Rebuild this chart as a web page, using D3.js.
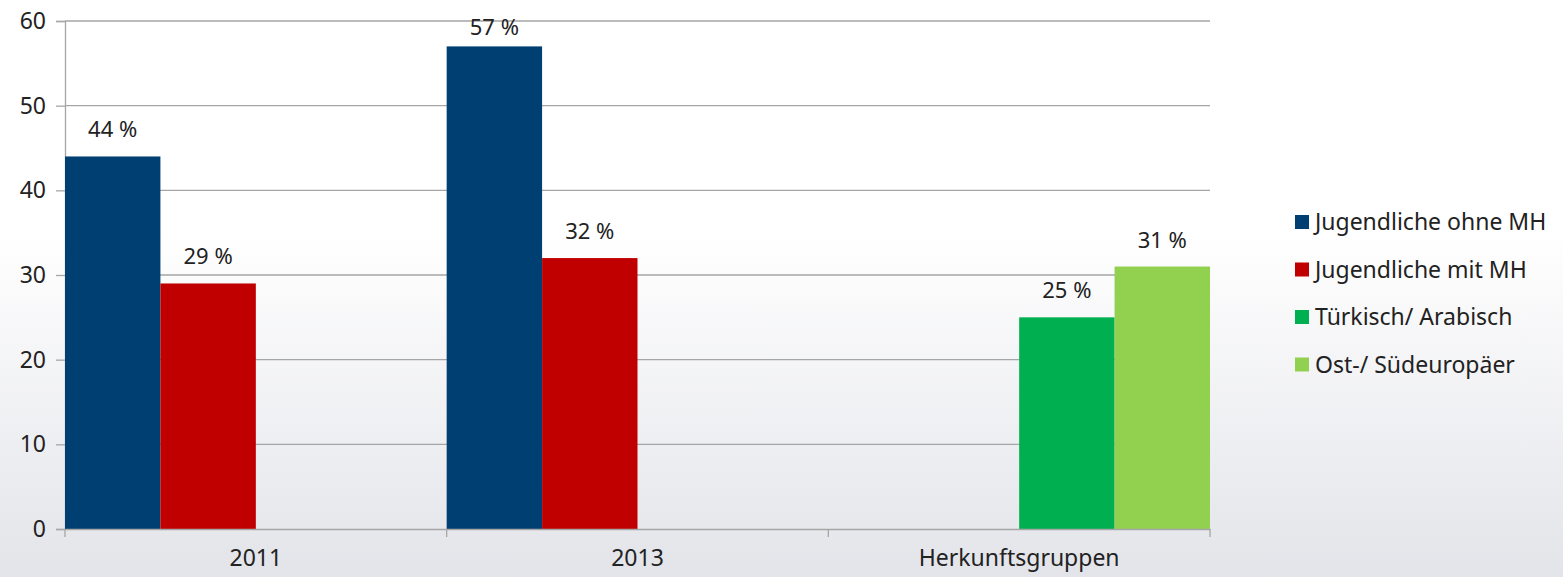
<!DOCTYPE html>
<html>
<head>
<meta charset="utf-8">
<script src="https://cdn.jsdelivr.net/npm/d3@7"></script>
<style>
  body { margin: 0; background: #fff; }
  svg { display: block; font-family: "Noto Sans", "Open Sans", sans-serif; }
</style>
</head>
<body>
<svg id="chart" width="1563" height="577"></svg>
<script>
var categories = ["2011", "2013", "Herkunftsgruppen"];
var seriesNames = ["Jugendliche ohne MH", "Jugendliche mit MH", "Türkisch/ Arabisch", "Ost-/ Südeuropäer"];
var seriesColors = ["#003f72", "#c00000", "#00b050", "#92d050"];
// values per series, one per category (null = no bar)
var ohneMH = [44, 57, null];
var mitMH = [29, 32, null];
var tuerkArab = [null, null, 25];
var ostSued = [null, null, 31];
var yTicks = [0, 10, 20, 30, 40, 50, 60];

var seriesValues = [ohneMH, mitMH, tuerkArab, ostSued];

var svg = d3.select("#chart");
var W = 1563, H = 577;
// plot area (note: "top" is taken by window.top)
var plotLeft = 65, plotRight = 1210, plotTop = 21, plotBottom = 529;

// background gradient
var defs = svg.append("defs");
var grad = defs.append("linearGradient").attr("id", "bg")
    .attr("x1", 0).attr("y1", 0).attr("x2", 0).attr("y2", 1);
grad.append("stop").attr("offset", "0%").attr("stop-color", "#ffffff");
grad.append("stop").attr("offset", "40%").attr("stop-color", "#ffffff");
grad.append("stop").attr("offset", "100%").attr("stop-color", "#e3e4e9");
svg.append("rect").attr("width", W).attr("height", H).attr("fill", "url(#bg)");

//scales
var x0 = d3.scaleBand().domain(categories).range([plotLeft, plotRight]).padding(0);
var x1 = d3.scaleBand().domain(d3.range(seriesNames.length)).range([0, x0.bandwidth()]).padding(0);
var y = d3.scaleLinear().domain([0, 60]).range([plotBottom, plotTop]);

//grid
svg.append("g").selectAll("line")
    .data(yTicks.filter(d => d > 0))
    .enter().append("line")
    .attr("x1", plotLeft).attr("x2", plotRight)
    .attr("y1", d => y(d)).attr("y2", d => y(d))
    .attr("stroke", "#a6a6a6").attr("stroke-width", 1.3);

//y axis
var yAxis = svg.append("g")
    .attr("transform", "translate(" + plotLeft + ",0)")
    .call(d3.axisLeft(y).tickValues(yTicks).tickSize(9).tickPadding(10));
yAxis.select(".domain").attr("stroke", "#a6a6a6").attr("stroke-width", 1.3);
yAxis.selectAll(".tick line").attr("stroke", "#a6a6a6").attr("stroke-width", 1.3);
yAxis.selectAll("text").attr("font-size", 23).attr("fill", "#222")
    .attr("font-family", "'Noto Sans', sans-serif");

//bars
var rows = [];
categories.forEach(function (c, ci) {
    seriesValues.forEach(function (vals, si) {
        if (vals[ci] != null) rows.push({cat: c, s: si, v: vals[ci]});
    });
});

svg.append("g").selectAll("rect")
    .data(rows)
    .enter().append("rect")
    .attr("x", d => x0(d.cat) + x1(d.s))
    .attr("y", d => y(d.v))
    .attr("width", x1.bandwidth())
    .attr("height", d => y(0) - y(d.v))
    .attr("fill", d => seriesColors[d.s]);

//value labels
svg.append("g").selectAll("text")
    .data(rows)
    .enter().append("text")
    .attr("x", d => x0(d.cat) + x1(d.s) + x1.bandwidth() / 2)
    .attr("y", d => Math.max(y(d.v) - 19, 35))
    .attr("text-anchor", "middle")
    .attr("font-size", 22)
    .attr("fill", "#222")
    .text(d => d.v + " %");

//x axis
var xAxis = svg.append("g")
    .attr("transform", "translate(0," + plotBottom + ")")
    .call(d3.axisBottom(x0).tickSize(0).tickPadding(21));
xAxis.select(".domain").attr("stroke", "#a6a6a6").attr("stroke-width", 1.3);
xAxis.selectAll("text").attr("font-size", 23).attr("fill", "#222")
    .attr("font-family", "'Noto Sans', sans-serif");
// category separators
svg.append("g").selectAll("line")
    .data(categories.map(c => x0(c)).concat([plotRight]))
    .enter().append("line")
    .attr("x1", d => d).attr("x2", d => d)
    .attr("y1", plotBottom).attr("y2", plotBottom + 8)
    .attr("stroke", "#a6a6a6").attr("stroke-width", 1.3);

//legend
var legend = svg.append("g").selectAll("g")
    .data(seriesNames)
    .enter().append("g")
    .attr("transform", (d, i) => "translate(1295," + (222 + i * 47.5) + ")");
legend.append("rect")
    .attr("x", 0).attr("y", -7)
    .attr("width", 14).attr("height", 14)
    .attr("fill", (d, i) => seriesColors[i]);
legend.append("text")
    .attr("x", 20).attr("dy", "0.35em")
    .attr("font-size", 23).attr("fill", "#222")
    .text(d => d);
</script>
</body>
</html>
